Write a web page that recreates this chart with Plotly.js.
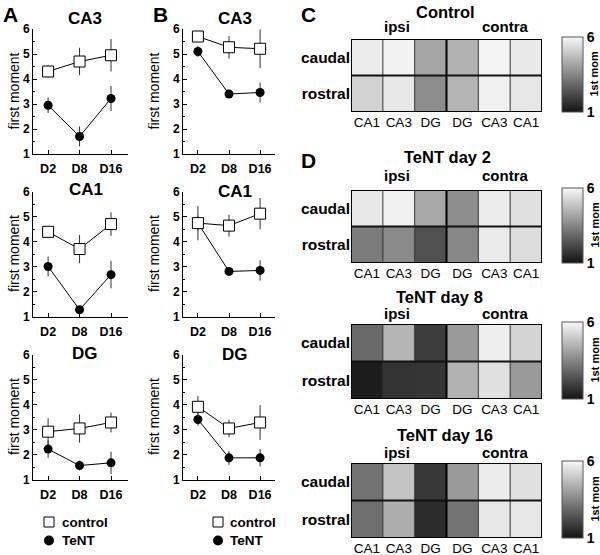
<!DOCTYPE html>
<html>
<head>
<meta charset="utf-8">
<script src="https://cdn.plot.ly/plotly-3.0.1.min.js"></script>
<style>html,body{margin:0;padding:0;background:#fff}#chart{width:600px;height:555px}</style>
</head>
<body>
<div id="chart"></div>
<script>
// ---------- data ----------
const days = ['D2', 'D8', 'D16'];

// Panel A
const A_CA3_control = [4.30, 4.70, 4.95];
const A_CA3_control_err = [0.25, 0.55, 0.65];
const A_CA3_tent = [2.95, 1.70, 3.22];
const A_CA3_tent_err = [0.31, 0.40, 0.50];
const A_CA1_control = [4.40, 3.71, 4.71];
const A_CA1_control_err = [0.22, 0.57, 0.47];
const A_CA1_tent = [3.01, 1.27, 2.68];
const A_CA1_tent_err = [0.40, 0.08, 0.55];
const A_DG_control = [2.92, 3.05, 3.29];
const A_DG_control_err = [0.54, 0.57, 0.40];
const A_DG_tent = [2.22, 1.56, 1.67];
const A_DG_tent_err = [0.35, 0.20, 0.45];

// Panel B
const B_CA3_control = [5.70, 5.27, 5.21];
const B_CA3_control_err = [0.20, 0.45, 0.78];
const B_CA3_tent = [5.10, 3.40, 3.46];
const B_CA3_tent_err = [0.22, 0.15, 0.40];
const B_CA1_control = [4.75, 4.65, 5.13];
const B_CA1_control_err = [0.69, 0.44, 0.63];
const B_CA1_tent = [4.75, 2.81, 2.85];
const B_CA1_tent_err = [0.30, 0.08, 0.41];
const B_DG_control = [3.92, 3.05, 3.29];
const B_DG_control_err = [0.43, 0.35, 0.70];
const B_DG_tent = [3.41, 1.87, 1.87];
const B_DG_tent_err = [0.25, 0.28, 0.35];

// Panels C, D (1st moment maps)
const hmCols = ['CA1', 'CA3', 'DG', 'DG', 'CA3', 'CA1'];
const hmRows = ['caudal', 'rostral'];
const control_caudal = [5.71, 5.87, 4.18, 4.46, 5.91, 5.67];
const control_rostral = [5.17, 5.65, 3.63, 4.51, 5.82, 5.61];
const day2_caudal = [5.65, 5.82, 4.25, 3.68, 5.74, 5.47];
const day2_rostral = [3.28, 3.59, 2.32, 3.54, 5.69, 5.39];
const day8_caudal = [2.89, 4.51, 1.88, 3.92, 5.78, 5.21];
const day8_rostral = [1.18, 1.68, 1.72, 4.46, 5.47, 3.94];
const day16_caudal = [3.06, 4.86, 1.79, 3.94, 5.74, 5.47];
const day16_rostral = [2.97, 4.36, 1.53, 3.11, 5.61, 5.61];

// ---------- helpers ----------
const W = 600, H = 555;
const P = x => x / W;
const Q = y => 1 - y / H;
const FONT = 'Liberation Sans, Arial, Helvetica, sans-serif';

function lineTrace(y, err, kind, ax) {
  const isCtl = kind === 'control';
  return {
    type: 'scatter', mode: 'lines+markers', x: days, y: y,
    xaxis: 'x' + ax, yaxis: 'y' + ax,
    line: {color: '#000', width: 1},
    marker: isCtl
      ? {symbol: 'square', size: 11, color: '#fff', line: {color: '#000', width: 1}}
      : {symbol: 'circle', size: 9, color: '#000', line: {color: '#000', width: 0}},
    error_y: {type: 'data', array: err, visible: true, color: '#333', thickness: 1, width: 0},
    hoverinfo: 'skip'
  };
}

const traces = [];
const lineSets = [
  [A_CA3_control, A_CA3_control_err, A_CA3_tent, A_CA3_tent_err, ''],
  [B_CA3_control, B_CA3_control_err, B_CA3_tent, B_CA3_tent_err, '2'],
  [A_CA1_control, A_CA1_control_err, A_CA1_tent, A_CA1_tent_err, '3'],
  [B_CA1_control, B_CA1_control_err, B_CA1_tent, B_CA1_tent_err, '4'],
  [A_DG_control, A_DG_control_err, A_DG_tent, A_DG_tent_err, '5'],
  [B_DG_control, B_DG_control_err, B_DG_tent, B_DG_tent_err, '6']
];
lineSets.forEach(s => {
  traces.push(lineTrace(s[2], s[3], 'tent', s[4]));
  traces.push(lineTrace(s[0], s[1], 'control', s[4]));
});

const colorscale = [[0, 'rgb(20,20,20)'], [1, 'rgb(248,248,248)']];
const colIdx = hmCols.map((_, i) => i);
const rowIdx = hmRows.map((_, i) => i);
function cb(top, bottom) {
  return {
    x: P(562), xanchor: 'left', xpad: 0, ypad: 0,
    y: Q((top + bottom) / 2), yanchor: 'middle',
    len: bottom - top, lenmode: 'pixels',
    thickness: 21, thicknessmode: 'pixels',
    tickvals: [1, 6], ticktext: ['1', '6'], ticks: '',
    tickfont: {family: FONT, size: 14, weight: 'bold', color: '#000'},
    outlinewidth: 1, outlinecolor: '#555'
  };
}
const maps = [
  [control_caudal, control_rostral, '7', 37, 112],
  [day2_caudal, day2_rostral, '8', 188, 263],
  [day8_caudal, day8_rostral, '9', 322, 399],
  [day16_caudal, day16_rostral, '10', 461, 538]
];
maps.forEach(m => {
  traces.push({
    type: 'heatmap', z: [m[0], m[1]], x: colIdx, y: rowIdx,
    xaxis: 'x' + m[2], yaxis: 'y' + m[2],
    zmin: 1, zmax: 6, colorscale: colorscale,
    showscale: true, colorbar: cb(m[3], m[4]), hoverinfo: 'skip'
  });
});

// ---------- layout ----------
const layout = {
  width: W, height: H,
  margin: {l: 0, r: 0, t: 0, b: 0},
  paper_bgcolor: '#fff', plot_bgcolor: 'rgba(0,0,0,0)',
  showlegend: false,
  font: {family: FONT, color: '#000'},
  annotations: [], shapes: []
};

const colX = {A: [33, 128, [-0.48, 2.54]], B: [183, 275, [-0.48, 2.48]]};
const rowY = [[29, 154], [192, 316.5], [355, 479.5]];
const lineAxes = [['', 'A', 0], ['2', 'B', 0], ['3', 'A', 1], ['4', 'B', 1], ['5', 'A', 2], ['6', 'B', 2]];
lineAxes.forEach(a => {
  const c = colX[a[1]], r = rowY[a[2]];
  layout['xaxis' + a[0]] = {
    domain: [P(c[0]), P(c[1])], anchor: 'y' + a[0], type: 'category',
    range: c[2], showline: true, linecolor: '#000', linewidth: 1,
    ticks: 'inside', ticklen: 4, tickcolor: '#000', showgrid: false, zeroline: false,
    ticklabelstandoff: 3,
    tickfont: {family: FONT, size: 12.5, weight: 'bold', color: '#000'}, fixedrange: true
  };
  layout['yaxis' + a[0]] = {
    domain: [Q(r[1]), Q(r[0])], anchor: 'x' + a[0],
    range: [1, 6], tickvals: [1, 2, 3, 4, 5, 6], showline: true, linecolor: '#000', linewidth: 1,
    ticks: 'inside', ticklen: 4, tickcolor: '#000', showgrid: false, zeroline: false,
    minor: {dtick: 0.5, tick0: 1, ticks: 'inside', ticklen: 2, tickcolor: '#000', showgrid: false},
    tickfont: {family: FONT, size: 12, weight: 'bold', color: '#000'}, fixedrange: true
  };
});

maps.forEach(m => {
  const id = m[2];
  const top = m[3] + 2, bottom = m[4];
  layout['xaxis' + id] = {
    domain: [P(351), P(542)], anchor: 'y' + id, range: [-0.5, hmCols.length - 0.5],
    tickvals: colIdx, ticktext: hmCols, ticks: '', showline: false, showgrid: false, zeroline: false,
    tickfont: {family: FONT, size: 13.5, color: '#000'}, fixedrange: true
  };
  layout['yaxis' + id] = {
    domain: [Q(bottom), Q(top)], anchor: 'x' + id, range: [hmRows.length - 0.5, -0.5],
    tickvals: rowIdx, ticktext: hmRows, ticks: '', showline: false, showgrid: false, zeroline: false,
    tickfont: {family: FONT, size: 15.5, weight: 'bold', color: '#000'}, fixedrange: true
  };
  const xr = 'x' + id, yr = 'y' + id;
  for (let i = 1; i < hmCols.length; i++) {
    const mid = i === hmCols.length / 2;
    layout.shapes.push({type: 'line', xref: xr, yref: yr, x0: i - 0.5, x1: i - 0.5, y0: -0.5, y1: hmRows.length - 0.5,
      line: {color: mid ? '#000' : '#333', width: mid ? 2 : 1}});
  }
  for (let j = 1; j < hmRows.length; j++) {
    layout.shapes.push({type: 'line', xref: xr, yref: yr, x0: -0.5, x1: hmCols.length - 0.5, y0: j - 0.5, y1: j - 0.5,
      line: {color: '#111', width: 2}});
  }
  layout.shapes.push({type: 'rect', xref: xr, yref: yr, x0: -0.5, x1: hmCols.length - 0.5, y0: -0.5, y1: hmRows.length - 0.5,
    line: {color: '#000', width: 2}, fillcolor: 'rgba(0,0,0,0)'});
});

function ann(text, x, y, size, bold, extra) {
  layout.annotations.push(Object.assign({
    text: text, xref: 'paper', yref: 'paper', x: P(x), y: Q(y),
    xanchor: 'center', yanchor: 'middle', showarrow: false,
    font: {family: FONT, size: size, weight: bold ? 'bold' : 'normal', color: '#000'}
  }, extra || {}));
}

// panel letters
ann('A', 10, 15, 21, true);
ann('B', 160, 15, 21, true);
ann('C', 308, 15, 21, true);
ann('D', 308, 161, 21, true);

// line-plot titles
ann('CA3', 85, 19, 17, true);
ann('CA3', 235, 19, 17, true);
ann('CA1', 86, 189, 17, true);
ann('CA1', 235, 191, 17, true);
ann('DG', 85, 353, 17, true);
ann('DG', 235, 354, 17, true);

// y-axis titles
[[14, 91.5], [154, 91.5], [14, 254], [154, 254], [14, 417], [154, 417]].forEach(p => {
  ann('first moment', p[0], p[1], 14, false, {textangle: -90});
});

// legends (A and B)
[[49, 60], [218, 228]].forEach(l => {
  layout.shapes.push({type: 'rect', xref: 'paper', yref: 'paper',
    x0: P(l[0] - 5), x1: P(l[0] + 5), y0: Q(527), y1: Q(517),
    line: {color: '#000', width: 1}, fillcolor: '#fff'});
  layout.shapes.push({type: 'circle', xref: 'paper', yref: 'paper',
    x0: P(l[0] - 5), x1: P(l[0] + 5), y0: Q(545.5), y1: Q(535.5),
    line: {color: '#000', width: 0}, fillcolor: '#000'});
  ann('control', l[1], 522, 13.5, true, {xanchor: 'left'});
  ann('TeNT', l[1], 540.5, 13.5, true, {xanchor: 'left'});
});

// heatmap titles and side labels
const hmTitles = [['Control', 445, 12, 27, 74.5], ['TeNT day 2', 447, 157, 175, 225.5],
  ['TeNT day 8', 440, 297, 313, 360.5], ['TeNT day 16', 445, 435, 452, 499.5]];
hmTitles.forEach(t => {
  ann(t[0], t[1], t[2], 16.5, true);
  ann('ipsi', 397, t[3], 15, true);
  ann('contra', 505, t[3], 15, true);
  ann('1st mom', 594, t[4], 11, true, {textangle: -90});
});

Plotly.newPlot('chart', traces, layout, {staticPlot: true, displayModeBar: false});
</script>
</body>
</html>
